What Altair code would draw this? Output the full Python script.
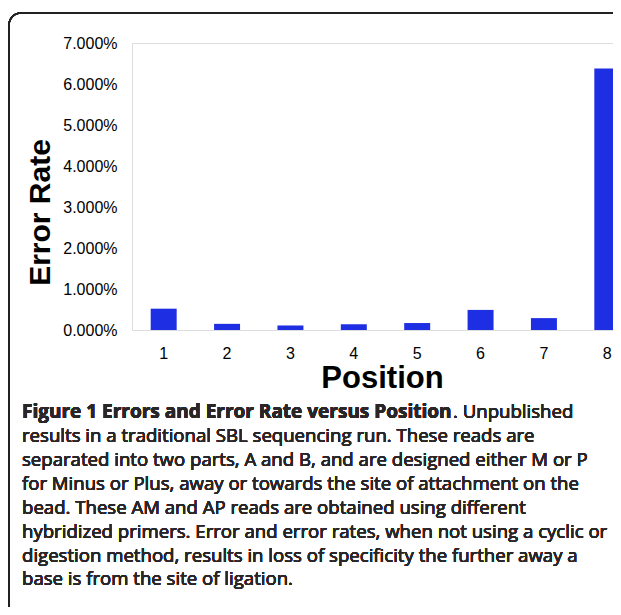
import altair as alt
import pandas as pd

positions = ["1", "2", "3", "4", "5", "6", "7", "8"]
error_rate = [0.0052, 0.0015, 0.0011, 0.0014, 0.0017, 0.0049, 0.0029, 0.0638]

caption_bold = "Figure 1 Errors and Error Rate versus Position"
caption_first_rest = ". Unpublished"
caption_lines = [
    "results in a traditional SBL sequencing run. These reads are",
    "separated into two parts, A and B, and are designed either M or P",
    "for Minus or Plus, away or towards the site of attachment on the",
    "bead. These AM and AP reads are obtained using different",
    "hybridized primers. Error and error rates, when not using a cyclic or",
    "digestion method, results in loss of specificity the further away a",
    "base is from the site of ligation.",
]

df = pd.DataFrame({"Position": positions, "Rate": error_rate})

PAD_L, PAD_T = 124, 35
W, H = 481, 287          # svg total 605 x 599
X_RANGE = 507            # bars continue past the svg edge, as in the cropped original
CAP_FONT = "Open Sans"
BOLD_SIZE = 19
BODY_SIZE = 18.6
CAP_COLOR = "#2a2627"

x_enc = alt.X(
    "Position:N",
    sort=positions,
    scale=alt.Scale(paddingInner=0.59, paddingOuter=0.295, range=[0, X_RANGE]),
    axis=alt.Axis(
        title="Position", labelAngle=0, domain=False, ticks=False, grid=False,
        labelFont="Liberation Sans", labelFontSize=16, labelColor="#000",
        labelPadding=15, titleFont="Liberation Sans", titleFontSize=31,
        titleFontWeight="bold", titleColor="#000", titleBaseline="middle",
        titleY=48, titleX=250,
    ),
)
y_enc = alt.Y(
    "Rate:Q",
    scale=alt.Scale(domain=[0, 0.07], nice=False),
    axis=alt.Axis(
        title="Error Rate", format=".3%", values=[0, 0.01, 0.02, 0.03, 0.04, 0.05, 0.06, 0.07],
        domain=False, ticks=False, grid=False,
        labelFont="Liberation Sans", labelFontSize=16, labelColor="#000", labelPadding=15,
        titleFont="Liberation Sans", titleFontSize=30, titleFontWeight="bold", titleColor="#000",
        titleAngle=-90, titleBaseline="middle", titleAlign="center",
        titleX=-92, titleY=169,
    ),
)

bars = alt.Chart(df).mark_bar(color="#1e2ee2").encode(x=x_enc, y=y_enc)

box = alt.Chart(df).mark_rect(
    fill=None, stroke="#222", strokeWidth=1.6, cornerRadius=12
).encode(
    x=alt.value(-PAD_L + 1), x2=alt.value(W + 60),
    y=alt.value(-30), y2=alt.value(H + 320),
)

cap1 = alt.Chart(df).mark_text(
    text=caption_bold, font=CAP_FONT, fontSize=BOLD_SIZE, fontWeight="bold",
    align="left", baseline="middle", color=CAP_COLOR,
).encode(x=alt.value(22 - 132), y=alt.value(412 - 43))

cap1b = alt.Chart(df).mark_text(
    text=caption_first_rest, font=CAP_FONT, fontSize=BODY_SIZE,
    align="left", baseline="middle", color=CAP_COLOR,
).encode(x=alt.value(453 - 132), y=alt.value(412 - 43))

cap_body = alt.Chart(df).mark_text(
    text="\n".join(caption_lines), lineBreak="\n", lineHeight=23.9,
    font=CAP_FONT, fontSize=BODY_SIZE, align="left", baseline="middle", color=CAP_COLOR,
).encode(x=alt.value(22 - 132), y=alt.value(436 - 43))

chart = alt.layer(bars, box, cap1, cap1b, cap_body).properties(
    width=W, height=H,
    autosize=alt.AutoSizeParams(type="none"),
    padding={"left": PAD_L, "top": PAD_T, "right": 0, "bottom": 599 - PAD_T - H},
).configure_view(stroke=None).configure(background="white")

chart.save("out.html", embed_options={"renderer": "svg", "actions": False})
